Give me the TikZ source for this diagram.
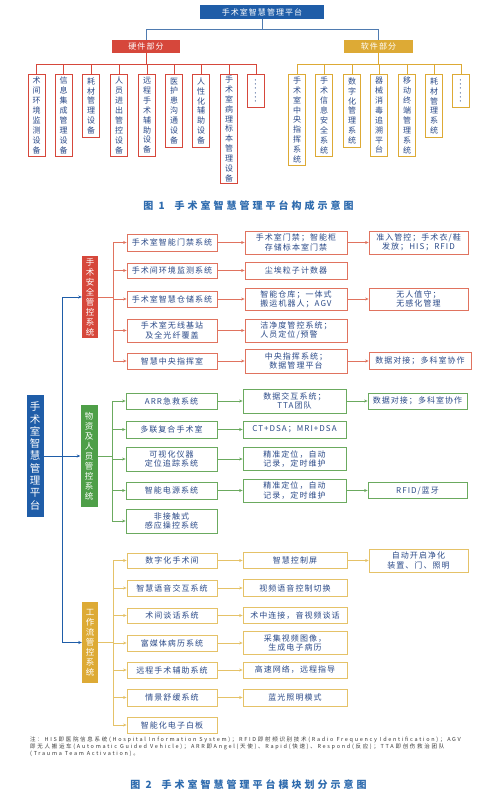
\documentclass[tikz,border=0pt]{standalone}
\usepackage{fontspec}
\setmainfont{Noto Sans CJK SC}
\newfontfamily\cjkv{Noto Sans CJK SC}
\newfontfamily\cjk[LetterSpace=13]{Noto Sans CJK SC}
\newfontfamily\cjkn[LetterSpace=31]{Noto Sans CJK SC}
\newfontfamily\cjkc[LetterSpace=30]{Noto Sans CJK SC}
\usetikzlibrary{arrows.meta}
\definecolor{cblue}{HTML}{1F5DA8}
\definecolor{cred}{HTML}{D6473B}
\definecolor{credl}{HTML}{E0735F}
\definecolor{cgreen}{HTML}{4E9F48}
\definecolor{cgreenl}{HTML}{6BAA5F}
\definecolor{cgold}{HTML}{DDAA35}
\definecolor{cgoldl}{HTML}{E5C268}
\definecolor{ctext}{HTML}{2B4A88}
\definecolor{ccap}{HTML}{2E6BAE}
\definecolor{cline}{HTML}{4F7BB0}
\definecolor{cnote}{HTML}{3A3A3A}
\begin{document}
\begin{tikzpicture}[x=1pt,y=-1pt,
  tip/.style={-{Stealth[length=3.5pt,width=3pt]}},
  filled/.style={inner sep=0pt,text=white,align=center},
  hfill/.style={filled,font=\cjk\fontsize{8}{9}\selectfont},
  vfill/.style={filled,font=\cjkv\fontsize{8.5}{10}\selectfont},
  wbox/.style={draw,line width=0.8pt,fill=white,text=ctext,inner sep=0pt,align=center,font=\cjk\fontsize{8}{9.2}\selectfont},
  vbox/.style={draw,line width=0.8pt,fill=white,text=ctext,inner sep=0pt,align=center,anchor=north,minimum width=17pt,font=\cjkv\fontsize{8}{9.9}\selectfont},
  hv/.style={vbox,draw=cred},
  sv/.style={vbox,draw=cgold},
  dotbox/.style={font=\cjkv\bfseries\fontsize{4.2}{5}\selectfont},
  ra/.style={wbox,draw=credl},
  ga/.style={wbox,draw=cgreenl},
  ya/.style={wbox,draw=cgoldl},
  rl/.style={draw=credl,line width=0.8pt},
  gl/.style={draw=cgreenl,line width=0.8pt},
  yl/.style={draw=cgoldl,line width=0.8pt},
  bl/.style={draw=cblue,line width=0.9pt},
  captxt/.style={text=ccap,font=\cjkc\bfseries\fontsize{10}{12}\selectfont,inner sep=0pt}
]
\fill[white] (0,0) rectangle (500,802);

% ---------------- Figure 1 ----------------
\node[hfill,fill=cblue,minimum width=124pt,minimum height=14pt] (top) at (262,12) {手术室智慧管理平台};
\node[hfill,fill=cred,minimum width=68pt,minimum height=13pt] (hw) at (146,46.5) {硬件部分};
\node[hfill,fill=cgold,minimum width=69pt,minimum height=13pt] (sw) at (378.5,46.5) {软件部分};
\draw[draw=cline,line width=1pt] (top.south) -- ++(0,10) -| (hw.north);
\draw[draw=cline,line width=1pt] (top.south) -- ++(0,10) -| (sw.north);

\node[hv,minimum height=82pt] (h1) at (36.5,74) {术\\间\\环\\境\\监\\测\\设\\备};
\node[hv,minimum height=82pt] (h2) at (63.5,74) {信\\息\\集\\成\\管\\理\\设\\备};
\node[hv,minimum height=63pt] (h3) at (91,74) {耗\\材\\管\\理\\设\\备};
\node[hv,minimum height=82pt] (h4) at (119,74) {人\\员\\进\\出\\管\\控\\设\\备};
\node[hv,minimum height=82pt] (h5) at (147,74) {远\\程\\手\\术\\辅\\助\\设\\备};
\node[hv,minimum height=73pt] (h6) at (174,74) {医\\护\\患\\沟\\通\\设\\备};
\node[hv,minimum height=73pt] (h7) at (201,74) {人\\性\\化\\辅\\助\\设\\备};
\node[hv,minimum height=109pt] (h8) at (229,74) {手\\术\\室\\病\\理\\标\\本\\管\\理\\设\\备};
\node[hv,dotbox,minimum height=33pt] (h9) at (256,74) {\rotatebox{90}{······}};
\foreach \n in {h1,h2,h3,h4,h5,h6,h7,h8,h9}
  \draw[draw=cred,line width=0.9pt] (hw.south) -- ++(0,11) -| (\n.north);

\node[sv,minimum height=91pt] (s1) at (297,74) {手\\术\\室\\中\\央\\指\\挥\\系\\统};
\node[sv,minimum height=82pt] (s2) at (324,74) {手\\术\\信\\息\\安\\全\\系\\统};
\node[sv,minimum height=73pt] (s3) at (352,74) {数\\字\\化\\管\\理\\系\\统};
\node[sv,minimum height=82pt] (s4) at (379,74) {器\\械\\消\\毒\\追\\溯\\平\\台};
\node[sv,minimum height=82pt] (s5) at (407,74) {移\\动\\终\\端\\管\\理\\系\\统};
\node[sv,minimum height=63pt] (s6) at (434,74) {耗\\材\\管\\理\\系\\统};
\node[sv,dotbox,minimum height=33pt] (s7) at (461,74) {\rotatebox{90}{······}};
\foreach \n in {s1,s2,s3,s4,s5,s6,s7}
  \draw[draw=cgold,line width=0.9pt] (sw.south) -- ++(0,11) -| (\n.north);

\node[captxt] (cap1) at (248.5,206) {图 1\hspace{10pt}手术室智慧管理平台构成示意图};

% ---------------- Figure 2 ----------------
\node[filled,fill=cblue,minimum width=17pt,minimum height=122pt,font=\cjkv\fontsize{10.5}{12.3}\selectfont] (m) at (35,456) {手\\术\\室\\智\\慧\\管\\理\\平\\台};
\node[vfill,fill=cred,minimum width=16pt,minimum height=82pt] (sa) at (90,297) {手\\术\\安\\全\\管\\控\\系\\统};
\node[vfill,fill=cgreen,minimum width=17pt,minimum height=102pt] (sb) at (89,456) {物\\资\\及\\人\\员\\管\\控\\系\\统};
\node[vfill,fill=cgold,minimum width=16pt,minimum height=81pt] (sc) at (90,642.5) {工\\作\\流\\管\\控\\系\\统};
\coordinate (bj) at (62,456);
\draw[bl,tip] (m.east) -- (sb.west);
\draw[bl,tip] (bj) |- (sa.west);
\draw[bl,tip] (bj) |- (sc.west);

% red section
\node[ra,minimum width=90pt,minimum height=17pt] (a1) at (172,242.5) {手术室智能门禁系统};
\node[ra,minimum width=90pt,minimum height=15pt] (a2) at (172,270.5) {手术间环境监测系统};
\node[ra,minimum width=90pt,minimum height=16pt] (a3) at (172,299) {手术室智慧仓储系统};
\node[ra,minimum width=90pt,minimum height=23pt] (a4) at (172,330.5) {手术室无线基站\\及全光纤覆盖};
\node[ra,minimum width=90pt,minimum height=16pt] (a5) at (172,361) {智慧中央指挥室};
\node[ra,minimum width=102pt,minimum height=23pt] (a1b) at (296,242.5) {手术室门禁；智能柜\\存储标本室门禁};
\node[ra,minimum width=102pt,minimum height=17pt] (a2b) at (296,270.5) {尘埃粒子计数器};
\node[ra,minimum width=102pt,minimum height=22pt] (a3b) at (296,299) {智能仓库；一体式\\搬运机器人；AGV};
\node[ra,minimum width=102pt,minimum height=23pt,align=left] (a4b) at (296,330.5) {洁净度管控系统；\\人员定位/预警};
\node[ra,minimum width=102pt,minimum height=24pt] (a5b) at (296,361) {中央指挥系统；\\数据管理平台};
\node[ra,minimum width=99pt,minimum height=23pt] (a1c) at (418.5,242.5) {准入管控；手术衣/鞋\\发放；HIS；RFID};
\node[ra,minimum width=99pt,minimum height=22pt] (a3c) at (418.5,299) {无人值守；\\无感化管理};
\node[ra,minimum width=102pt,minimum height=17pt] (a5c) at (420,361) {数据对接；多科室协作};
\coordinate (ja) at (113,297);
\draw[rl] (sa.east) -- (ja);
\foreach \n in {a1,a2,a3,a4,a5} \draw[rl,tip] (ja) |- (\n.west);
\foreach \n in {a1,a2,a3,a4,a5} \draw[rl,tip] (\n.east) -- (\n b.west);
\foreach \n in {a1,a3,a5} \draw[rl,tip] (\n b.east) -- (\n c.west);

% green section
\node[ga,minimum width=91pt,minimum height=16pt] (b1) at (171.5,401) {ARR急救系统};
\node[ga,minimum width=91pt,minimum height=17pt] (b2) at (171.5,429.5) {多联复合手术室};
\node[ga,minimum width=91pt,minimum height=24pt] (b3) at (171.5,459) {可视化仪器\\定位追踪系统};
\node[ga,minimum width=91pt,minimum height=17pt] (b4) at (171.5,490.5) {智能电源系统};
\node[ga,minimum width=91pt,minimum height=24pt] (b5) at (171.5,521) {非接触式\\感应操控系统};
\node[ga,minimum width=103pt,minimum height=24pt] (b1b) at (294.5,401) {数据交互系统；\\TTA团队};
\node[ga,minimum width=103pt,minimum height=17pt] (b2b) at (294.5,429.5) {CT+DSA；MRI+DSA};
\node[ga,minimum width=103pt,minimum height=23pt] (b3b) at (294.5,459) {精准定位，自动\\记录，定时维护};
\node[ga,minimum width=103pt,minimum height=23pt] (b4b) at (294.5,490.5) {精准定位，自动\\记录，定时维护};
\node[ga,minimum width=99pt,minimum height=16pt] (b1c) at (417.5,401) {数据对接；多科室协作};
\node[ga,minimum width=99pt,minimum height=16pt] (b4c) at (417.5,490.5) {RFID/蓝牙};
\coordinate (jb) at (112,456);
\draw[gl] (sb.east) -- (jb);
\foreach \n in {b1,b2,b3,b4,b5} \draw[gl,tip] (jb) |- (\n.west);
\foreach \n in {b1,b2,b3,b4} \draw[gl,tip] (\n.east) -- (\n b.west);
\foreach \n in {b1,b4} \draw[gl,tip] (\n b.east) -- (\n c.west);

% gold section
\node[ya,minimum width=90pt,minimum height=15pt] (c1) at (172,560.5) {数字化手术间};
\node[ya,minimum width=90pt,minimum height=16pt] (c2) at (172,588) {智慧语音交互系统};
\node[ya,minimum width=90pt,minimum height=15pt] (c3) at (172,615.5) {术间谈话系统};
\node[ya,minimum width=90pt,minimum height=16pt] (c4) at (172,643) {富媒体病历系统};
\node[ya,minimum width=90pt,minimum height=16pt] (c5) at (172,670) {远程手术辅助系统};
\node[ya,minimum width=90pt,minimum height=17pt] (c6) at (172,697.5) {情景舒缓系统};
\node[ya,minimum width=90pt,minimum height=16pt] (c7) at (172,725) {智能化电子白板};
\node[ya,minimum width=104pt,minimum height=16pt] (c1b) at (295,560.5) {智慧控制屏};
\node[ya,minimum width=104pt,minimum height=17pt] (c2b) at (295,588) {视频语音控制切换};
\node[ya,minimum width=104pt,minimum height=16pt] (c3b) at (295,615.5) {术中连接，音视频谈话};
\node[ya,minimum width=104pt,minimum height=23pt] (c4b) at (295,643) {采集视频图像，\\生成电子病历};
\node[ya,minimum width=104pt,minimum height=16pt] (c5b) at (295,670) {高速网络，远程指导};
\node[ya,minimum width=104pt,minimum height=17pt] (c6b) at (295,697.5) {蓝光照明模式};
\node[ya,minimum width=99pt,minimum height=23pt] (c1c) at (418.5,560.5) {自动开启净化\\装置、门、照明};
\coordinate (jc) at (113,642.5);
\draw[yl] (sc.east) -- (jc);
\foreach \n in {c1,c2,c3,c4,c5,c6,c7} \draw[yl,tip] (jc) |- (\n.west);
\foreach \n in {c1,c2,c3,c4,c5,c6} \draw[yl,tip] (\n.east) -- (\n b.west);
\draw[yl,tip] (c1b.east) -- (c1c.west);

% note and caption
\node[anchor=north west,inner sep=0pt,align=left,text=cnote,font=\cjkn\fontsize{5.5}{5.7}\selectfont] (note) at (30,736.5)
 {注：HIS即医院信息系统(Hospital Information System)；RFID即射频识别技术(Radio Frequency Identification)；AGV\\
  即无人搬运车(Automatic Guided Vehicle)；ARR即Angel(天使)、Rapid(快速)、Respond(反应)；TTA即创伤救治团队\\
  (Trauma Team Activation)。};
\node[captxt] (cap2) at (248.5,785) {图 2\hspace{10pt}手术室智慧管理平台模块划分示意图};
\end{tikzpicture}
\end{document}
